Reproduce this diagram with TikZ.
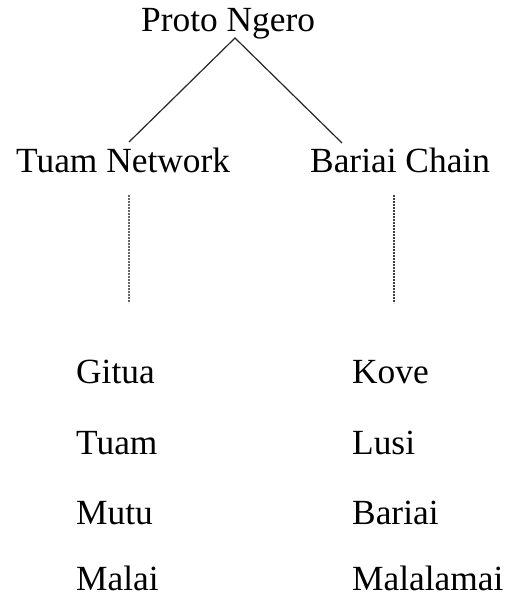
\documentclass[tikz,border=0pt]{standalone}
\usepackage{fontspec}
\setmainfont{Liberation Serif}
\begin{document}
\begin{tikzpicture}[x=1bp,y=-1bp,
  lbl/.style={inner sep=0pt,anchor=base west,font=\fontsize{35.5}{40}\selectfont},
  branch/.style={line width=1.2bp,black!85},
  dotline/.style={line width=1.3bp,black!60,dash pattern=on 1.5bp off 1.5bp}]
\useasboundingbox (0,0) rectangle (510,598);
% root and its two groups
\node[lbl] (root) at (141,32) {Proto Ngero};
\node[lbl] (tuamnet) at (16,173) {Tuam Network};
\node[lbl] (bariaich) at (310,173) {Bariai Chain};
\coordinate (apex) at (235,38);
\coordinate (lend) at (129,142);
\coordinate (rend) at (342,143);
\draw[branch] (lend) -- (apex) -- (rend);
% dotted links down to the member lists
\coordinate (ltop) at (129,195);
\coordinate (lbot) at (129,303);
\coordinate (rtop) at (394,195);
\coordinate (rbot) at (394,303);
\draw[dotline] (ltop) -- (lbot);
\draw[dotline,black!75] (rtop) -- (rbot);
% member languages
\node[lbl] (gitua) at (76,383) {Gitua};
\node[lbl] (tuam) at (76,454) {Tuam};
\node[lbl] (mutu) at (76,524) {Mutu};
\node[lbl] (malai) at (76,590) {Malai};
\node[lbl] (kove) at (352,383) {Kove};
\node[lbl] (lusi) at (352,454) {Lusi};
\node[lbl] (bariai) at (352,524) {Bariai};
\node[lbl] (malalamai) at (352,590) {Malalamai};
\end{tikzpicture}
\end{document}
